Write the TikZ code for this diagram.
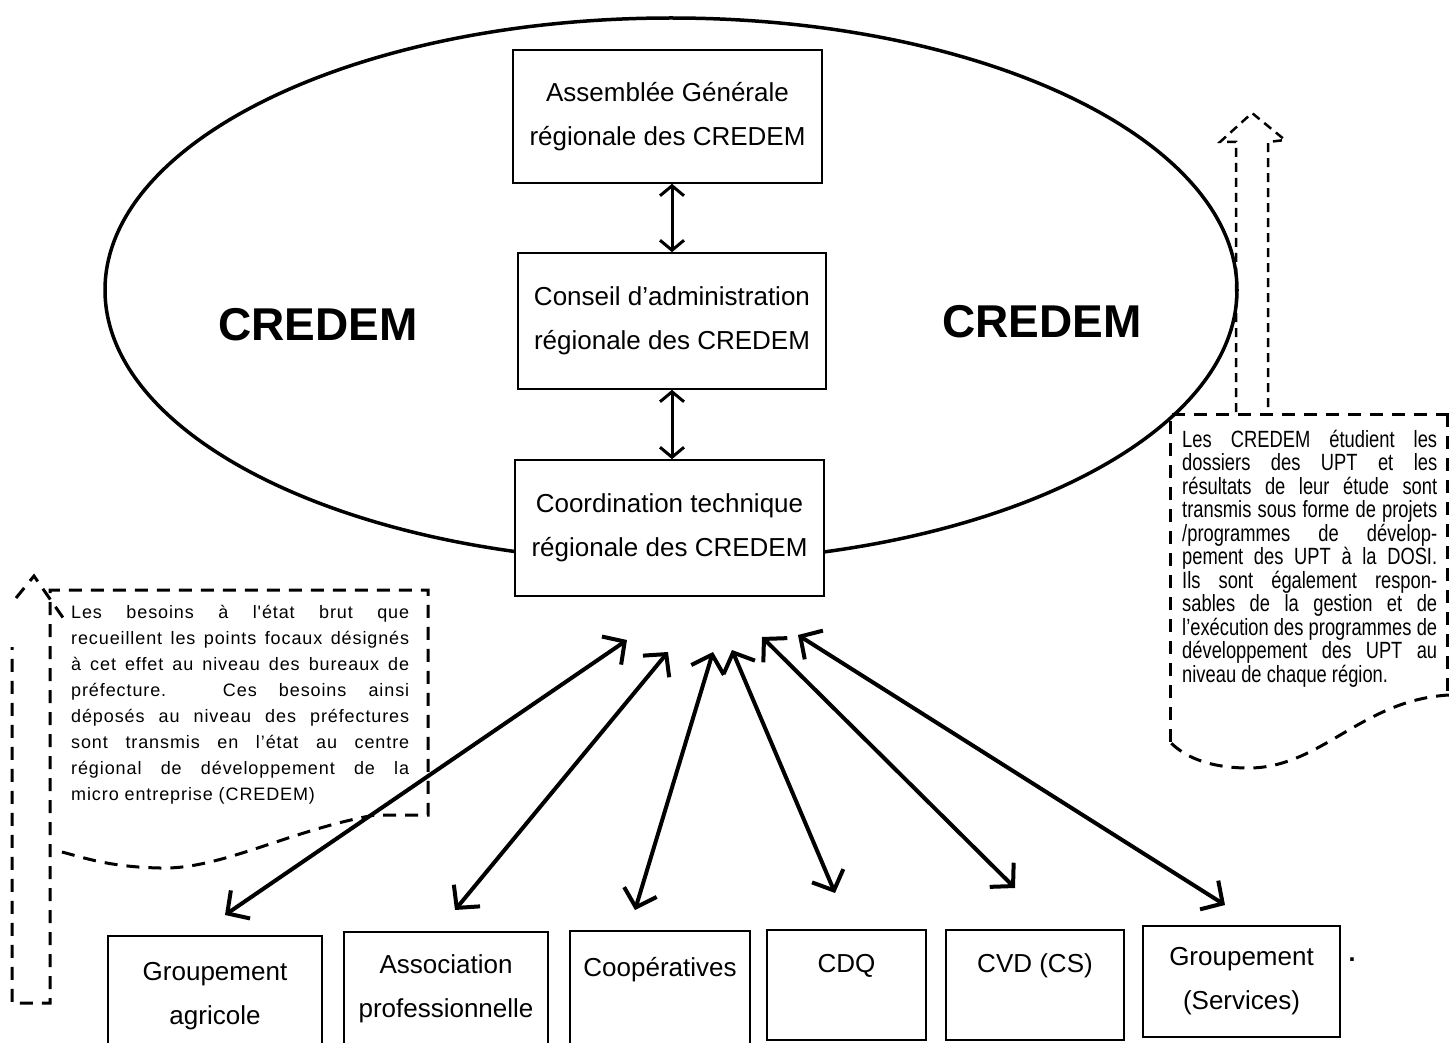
\documentclass[tikz,border=0pt]{standalone}
\usepackage{fontspec}
\setmainfont{Liberation Sans}
\newfontfamily\narrowfont[FakeStretch=0.78]{Liberation Sans}
\newfontfamily\spacedfont[LetterSpace=5]{Liberation Sans}
\usetikzlibrary{arrows.meta}
\begin{document}
\begin{tikzpicture}[x=1pt,y=-1pt,
  box/.style={draw, line width=1.6pt, fill=white, inner sep=0pt, align=center,
              font=\fontsize{26}{44}\selectfont},
  dbl/.style={line width=3pt, {Straight Barb[length=10pt,width=24pt]}-{Straight Barb[length=10pt,width=24pt]}},
  bigarrow/.style={line width=4pt, {Straight Barb[length=16pt,width=34pt]}-{Straight Barb[length=16pt,width=34pt]}},
  dsh/.style={line width=3pt, dash pattern=on 13pt off 9pt},
  dshthin/.style={line width=2.5pt, dash pattern=on 9pt off 6pt},
  bigword/.style={font=\bfseries\fontsize{46}{50}\selectfont}
]
\useasboundingbox (0,0) rectangle (1449,1043);
\clip (0,0) rectangle (1449,1043);
\fill[white] (0,0) rectangle (1449,1043);

% ellipse
\draw[line width=3.5pt] (671,290) ellipse [x radius=566, y radius=272];

% dashed callouts
\draw[dsh] (62,852) .. controls (85,858) and (110,867) .. (160,868)
  .. controls (220,870) and (290,830) .. (375,815) -- (428,815) -- (428,590)
  -- (50,590) -- (50,1003) -- (12,1003) -- (12,647);
\draw[dsh] (16,598) -- (34,576) -- (66,622);

\draw[dsh] (1170,742) -- (1170,414) -- (1449,414);
\draw[dsh] (1447,414) -- (1447,695);
\draw[dsh] (1449,695) .. controls (1360,700) and (1320,770) .. (1245,768)
  .. controls (1200,767) and (1180,752) .. (1170,742);
\draw[dshthin] (1236,412) -- (1236,142) -- (1220,142) -- (1252,113) -- (1285,140) -- (1268,142) -- (1268,412);

% main boxes
\node[box, minimum width=309pt, minimum height=133pt] (ag) at (667.5,116.5) {Assemblée Générale\\régionale des CREDEM};
\node[box, minimum width=308pt, minimum height=136pt] (ca) at (672,321) {Conseil d’administration\\régionale des CREDEM};
\node[box, minimum width=309pt, minimum height=136pt] (ct) at (669.5,528) {Coordination technique\\régionale des CREDEM};

\draw[dbl] (ag.south -| ca.north) -- (ca.north);
\draw[dbl] (ca.south) -- (ct.north -| ca.south);

\node[bigword] (cl) at (318,325) {CREDEM};
\node[bigword] (cr) at (1042,322) {CREDEM};

% bottom boxes
\node[box, minimum width=214pt, minimum height=120pt] (b1) at (215,996) {Groupement\\agricole};
\node[box, minimum width=204pt, minimum height=114pt] (b2) at (446,989) {Association\\professionnelle};
\node[box, minimum width=180pt, minimum height=116pt] (b3) at (660,989) {Coopératives\\\mbox{}};
\node[box, minimum width=159pt, minimum height=110pt] (b4) at (846.5,985) {CDQ\\\mbox{}};
\node[box, minimum width=178pt, minimum height=110pt] (b5) at (1035,985) {CVD (CS)\\\mbox{}};
\node[box, minimum width=197pt, minimum height=111pt] (b6) at (1241.5,981.5) {Groupement\\(Services)};
\node[font=\bfseries\fontsize{25}{30}\selectfont] (dot) at (1352,960) {.};

% arrow end points
\coordinate (s1) at (225,915); \coordinate (t1) at (627,640);
\coordinate (s2) at (455,910); \coordinate (t2) at (668,652);
\coordinate (s3) at (635,910); \coordinate (t3) at (713,652);
\coordinate (s4) at (835,893); \coordinate (t4) at (732,650);
\coordinate (s5) at (1015,888); \coordinate (t5) at (762,637);
\coordinate (s6) at (1225,905); \coordinate (t6) at (798,635);
\foreach \i in {1,...,6} { \draw[bigarrow] (s\i) -- (t\i); }

% texts of callouts
\node[anchor=north west, inner sep=0pt, text width=338pt, align=justify,
      font=\spacedfont\fontsize{18}{26}\selectfont] (lt) at (71,605)
{Les besoins à l'état brut que\linebreak
recueillent les points focaux désignés\linebreak
à cet effet au niveau des bureaux de\linebreak
préfecture. Ces besoins ainsi\linebreak
déposés au niveau des préfectures\linebreak
sont transmis en l’état au centre\linebreak
régional de développement de la\linebreak
micro entreprise (CREDEM)};

\node[anchor=north west, inner sep=0pt, text width=255pt, align=justify,
      font=\narrowfont\fontsize{23.5}{23.5}\selectfont] (rt) at (1182,429.5)
{Les CREDEM étudient les\linebreak
dossiers des UPT et les\linebreak
résultats de leur étude sont\linebreak
transmis sous forme de projets\linebreak
/programmes de dévelop-\linebreak
pement des UPT à la DOSI.\linebreak
Ils sont également respon-\linebreak
sables de la gestion et de\linebreak
l’exécution des programmes de\linebreak
développement des UPT au\linebreak
niveau de chaque région.};
\end{tikzpicture}
\end{document}
